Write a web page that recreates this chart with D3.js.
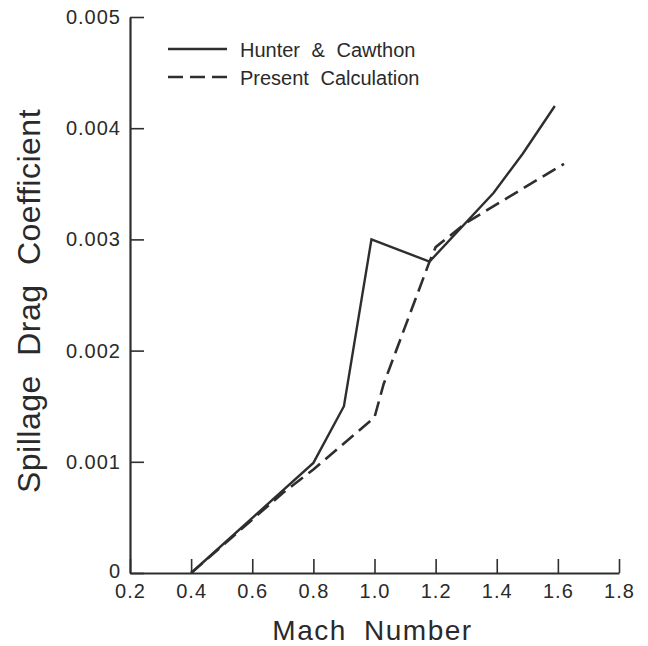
<!DOCTYPE html>
<html>
<head>
<meta charset="utf-8">
<script src="https://cdn.jsdelivr.net/npm/d3@7"></script>
<style>
  body { margin: 0; background: #fff; }
  text { font-family: "Liberation Sans", Arial, sans-serif; fill: #2a2a2a; }
</style>
</head>
<body>
<div id="wrapper"></div>
<script>
// values
const hunterMach = [0.4, 0.8, 0.9, 0.99, 1.18, 1.39, 1.485, 1.59];
const hunterCd   = [0, 0.00099, 0.0015, 0.003, 0.0028, 0.00342, 0.00377, 0.0042];

const presentMach = [0.4, 0.7, 0.8, 1.0, 1.03, 1.18, 1.2, 1.3, 1.62];
const presentCd   = [0, 0.00072, 0.00093, 0.0014, 0.0017, 0.0028, 0.00293, 0.00315, 0.00368];

const xTicks = [0.2, 0.4, 0.6, 0.8, 1.0, 1.2, 1.4, 1.6, 1.8];
const xTickLabels = ["0.2", "0.4", "0.6", "0.8", "1.0", "1.2", "1.4", "1.6", "1.8"];
const yTicks = [0, 0.001, 0.002, 0.003, 0.004, 0.005];
const yTickLabels = ["0", "0.001", "0.002", "0.003", "0.004", "0.005"];

const seriesNames = ["Hunter & Cawthon", "Present Calculation"];

function drawChart() {
	let dimensions = {
		width: 648,
		height: 646,
		margin: {
			top: 17,
			right: 29,
			bottom: 73,
			left: 130
		}
	};
	dimensions.boundedWidth = dimensions.width - dimensions.margin.left - dimensions.margin.right;
	dimensions.boundedHeight = dimensions.height - dimensions.margin.top - dimensions.margin.bottom;

	const svg = d3.select("#wrapper").append("svg")
		.attr("width", dimensions.width)
		.attr("height", dimensions.height);

	const bounds = svg.append("g")
		.attr("transform", `translate(${dimensions.margin.left},${dimensions.margin.top})`);

	const xScale = d3.scaleLinear()
		.domain([0.2, 1.8])
		.range([0, dimensions.boundedWidth]);

	const yScale = d3.scaleLinear()
		.domain([0, 0.005])
		.range([dimensions.boundedHeight, 0]);

	const ink = "#2e2e2e";

	// axes, ticks point inward
	const xAxisGenerator = d3.axisBottom(xScale)
		.tickValues(xTicks)
		.tickFormat((d, i) => xTickLabels[i])
		.tickSizeInner(-14)
		.tickSizeOuter(0)
		.tickPadding(11);

	const yAxisGenerator = d3.axisLeft(yScale)
		.tickValues(yTicks)
		.tickFormat((d, i) => yTickLabels[i])
		.tickSizeInner(-14)
		.tickSizeOuter(0)
		.tickPadding(9);

	const xAxis = bounds.append("g")
		.attr("transform", `translate(0,${dimensions.boundedHeight})`)
		.call(xAxisGenerator);

	const yAxis = bounds.append("g")
		.call(yAxisGenerator);

	[xAxis, yAxis].forEach(ax => {
		ax.select(".domain").attr("stroke", ink).attr("stroke-width", 2.2);
		ax.selectAll(".tick line").attr("stroke", ink).attr("stroke-width", 1.6);
		ax.selectAll(".tick text")
			.attr("fill", ink)
			.style("font-size", "20px")
			.style("letter-spacing", "1px")
			.style("font-family", "'Liberation Sans', Arial, sans-serif");
	});
	// keep the origin "0" clear of the "0.2" below it
	yAxis.selectAll(".tick text").filter(d => d === 0).attr("dy", "0.2em");

	// lines
	const lineGenerator = d3.line()
		.x(d => xScale(d[0]))
		.y(d => yScale(d[1]));

	const hunterData = d3.zip(hunterMach, hunterCd);
	const presentData = d3.zip(presentMach, presentCd);

	bounds.append("path")
		.attr("d", lineGenerator(presentData))
		.attr("fill", "none")
		.attr("stroke", ink)
		.attr("stroke-width", 2.6)
		.attr("stroke-dasharray", "15 7");

	bounds.append("path")
		.attr("d", lineGenerator(hunterData))
		.attr("fill", "none")
		.attr("stroke", ink)
		.attr("stroke-width", 2.4)
		.attr("stroke-linejoin", "miter");

	// legend
	const legend = svg.append("g").attr("transform", "translate(168,49)");
	const legendDash = [null, "15 7"];
	seriesNames.forEach((name, i) => {
		const row = legend.append("g").attr("transform", `translate(0,${i * 28})`);
		row.append("line")
			.attr("x1", 0).attr("x2", 59)
			.attr("y1", 0).attr("y2", 0)
			.attr("stroke", ink)
			.attr("stroke-width", 2.4)
			.attr("stroke-dasharray", legendDash[i]);
		row.append("text")
			.attr("x", 72)
			.attr("y", 8)
			.style("font-size", "20px")
			.style("word-spacing", "6px")
			.text(name);
	});

	// axis titles
	svg.append("text")
		.attr("x", dimensions.margin.left + dimensions.boundedWidth / 2 - 2)
		.attr("y", 640)
		.attr("text-anchor", "middle")
		.style("font-size", "28px")
		.style("letter-spacing", "1.5px")
		.style("word-spacing", "8px")
		.text("Mach Number");

	svg.append("text")
		.attr("transform", `translate(40,${dimensions.margin.top + dimensions.boundedHeight / 2 + 6}) rotate(-90)`)
		.attr("text-anchor", "middle")
		.style("font-size", "32px")
		.style("letter-spacing", "0.5px")
		.style("word-spacing", "10px")
		.text("Spillage Drag Coefficient");
}

drawChart();
</script>
</body>
</html>
